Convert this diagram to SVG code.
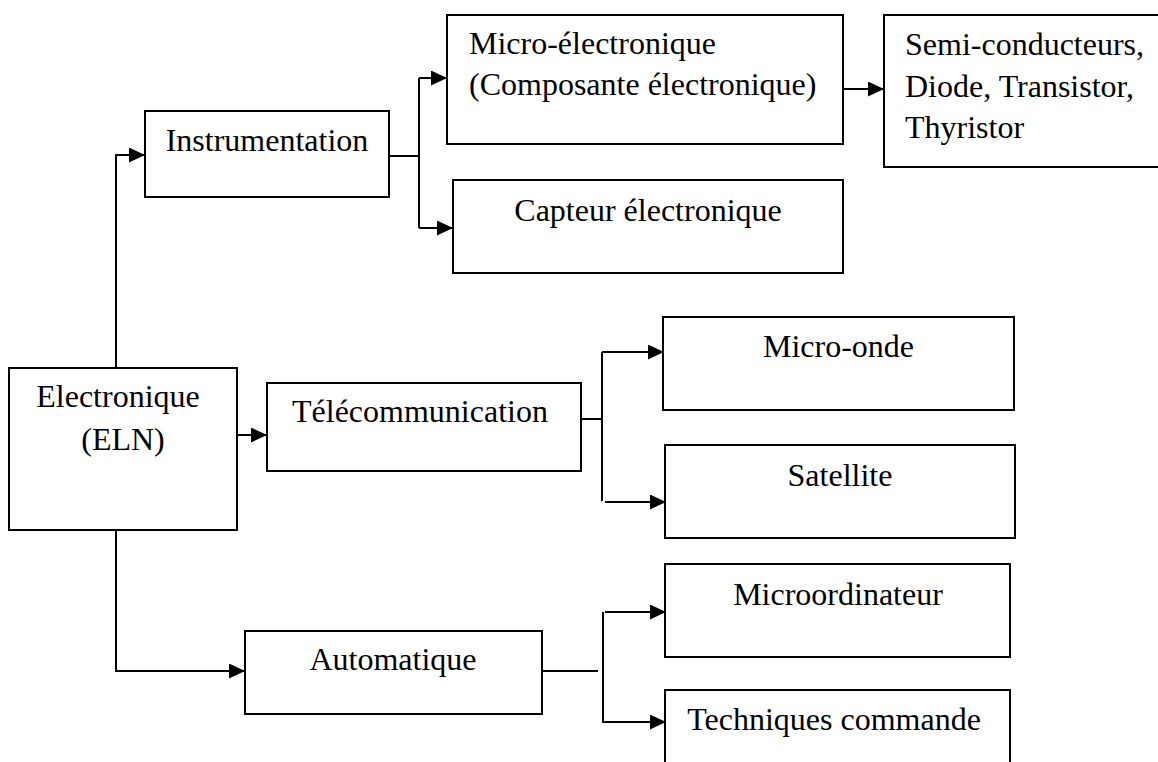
<svg xmlns="http://www.w3.org/2000/svg" width="1158" height="762" viewBox="0 0 1158 762">
  <style>
    .box { fill: #ffffff; stroke: #000000; stroke-width: 2; }
    .lbl { font-family: "Liberation Serif", "Times New Roman", serif; font-size: 32px; fill: #000000; }
    .mid { text-anchor: middle; }
    .wire { fill: none; stroke: #000000; stroke-width: 2; }
  </style>
  <defs>
    <!-- filled triangular arrowhead, tip placed on the end of the line -->
    <marker id="head" markerUnits="userSpaceOnUse" markerWidth="18" markerHeight="16" refX="16" refY="7.5" orient="auto">
      <path d="M0,0 L16,7.5 L0,15 z" fill="#000000"/>
    </marker>
  </defs>

  <rect width="1158" height="762" fill="#ffffff"/>

  <!-- connectors -->
  <g id="connectors">
    <path class="wire" d="M116,368 V155 H145" marker-end="url(#head)"/>
    <path class="wire" d="M389,156 H419"/>
    <path class="wire" d="M419,78 V228"/>
    <path class="wire" d="M419,78 H447" marker-end="url(#head)"/>
    <path class="wire" d="M419,228 H453" marker-end="url(#head)"/>
    <path class="wire" d="M843,89 H884" marker-end="url(#head)"/>
    <path class="wire" d="M237,435 H267" marker-end="url(#head)"/>
    <path class="wire" d="M581,419 H602"/>
    <path class="wire" d="M602,352 V501"/>
    <path class="wire" d="M602,352 H664" marker-end="url(#head)"/>
    <path class="wire" d="M605,502 H666" marker-end="url(#head)"/>
    <path class="wire" d="M116,530 V671 H245" marker-end="url(#head)"/>
    <path class="wire" d="M542,671 H598"/>
    <path class="wire" d="M603,612 V722 H666" marker-end="url(#head)"/>
    <path class="wire" d="M605,612 H666" marker-end="url(#head)"/>
  </g>

  <g id="eln">
    <rect class="box" x="9" y="368" width="228" height="162"/>
    <text class="lbl mid" x="118" y="407">Electronique</text>
    <text class="lbl mid" x="123" y="450">(ELN)</text>
  </g>

  <g id="instrumentation">
    <rect class="box" x="145" y="111" width="244" height="86"/>
    <text class="lbl mid" x="267" y="151">Instrumentation</text>
  </g>

  <g id="micro-electronique">
    <rect class="box" x="447" y="15" width="396" height="129"/>
    <text class="lbl" x="469" y="54">Micro-électronique</text>
    <text class="lbl" x="469" y="95">(Composante électronique)</text>
  </g>

  <g id="capteur">
    <rect class="box" x="453" y="180" width="390" height="93"/>
    <text class="lbl mid" x="648" y="221">Capteur électronique</text>
  </g>

  <g id="composants">
    <rect class="box" x="884" y="15" width="276" height="152"/>
    <text class="lbl" x="905" y="55">Semi-conducteurs,</text>
    <text class="lbl" x="905" y="96.5">Diode, Transistor,</text>
    <text class="lbl" x="905" y="138">Thyristor</text>
  </g>

  <g id="telecommunication">
    <rect class="box" x="267" y="383" width="314" height="88"/>
    <text class="lbl" x="292" y="422">Télécommunication</text>
  </g>

  <g id="micro-onde">
    <rect class="box" x="663" y="317" width="351" height="93"/>
    <text class="lbl mid" x="838.5" y="357">Micro-onde</text>
  </g>

  <g id="satellite">
    <rect class="box" x="665" y="445" width="350" height="93"/>
    <text class="lbl mid" x="840" y="486">Satellite</text>
  </g>

  <g id="automatique">
    <rect class="box" x="245" y="631" width="297" height="83"/>
    <text class="lbl mid" x="393" y="670">Automatique</text>
  </g>

  <g id="microordinateur">
    <rect class="box" x="665" y="564" width="345" height="93"/>
    <text class="lbl mid" x="838" y="605">Microordinateur</text>
  </g>

  <g id="techniques-commande">
    <rect class="box" x="665" y="690" width="345" height="100"/>
    <text class="lbl mid" x="834" y="730">Techniques commande</text>
  </g>
</svg>
